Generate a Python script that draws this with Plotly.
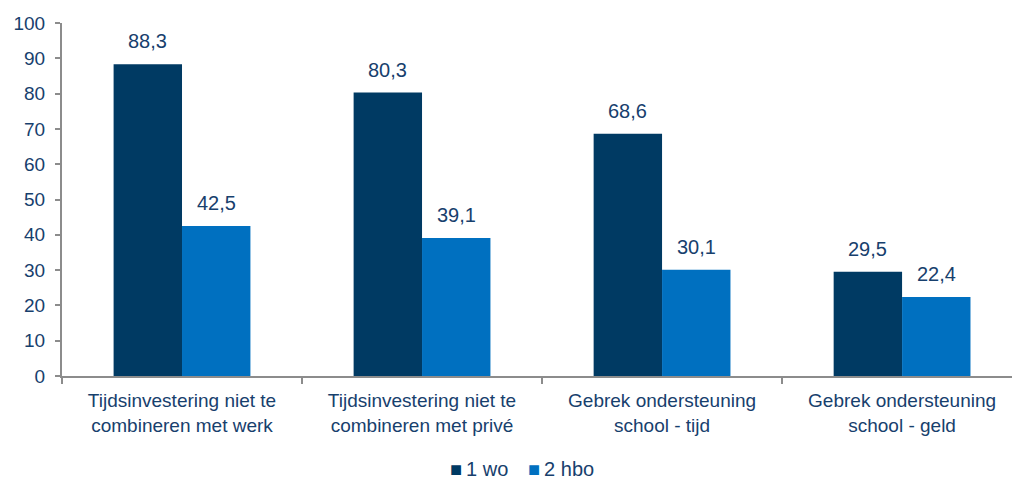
import plotly.graph_objects as go

categories = [
    "Tijdsinvestering niet te<br>combineren met werk",
    "Tijdsinvestering niet te<br>combineren met privé",
    "Gebrek ondersteuning<br>school - tijd",
    "Gebrek ondersteuning<br>school - geld",
]
wo_values = [88.3, 80.3, 68.6, 29.5]
hbo_values = [42.5, 39.1, 30.1, 22.4]
series_names = ["1 wo", "2 hbo"]
series_colors = ["#003A63", "#0070C0"]

text_color = "#17406D"
axis_color = "#8C8C8C"
font_family = "Liberation Sans, Arial, sans-serif"
bargap = 0.43
plot_left, plot_width = 62, 950


def fmt(v):
    return f"{v:.1f}".replace(".", ",")


fig = go.Figure()
for name, vals, color in zip(series_names, [wo_values, hbo_values], series_colors):
    fig.add_trace(go.Bar(
        x=categories, y=vals, name=name,
        marker=dict(color=color, line=dict(width=0)),
    ))

# value labels above each bar
half = (1 - bargap) / 4
for offset, vals in zip([-half, half], [wo_values, hbo_values]):
    for i, v in enumerate(vals):
        fig.add_annotation(
            x=i + offset, y=v, text=fmt(v), showarrow=False,
            yanchor="bottom", yshift=10,
            font=dict(size=20, color=text_color, family=font_family),
        )

# compact legend below the axis: coloured square followed by series name
for name, color, left_px in zip(series_names, series_colors, [449, 527]):
    fig.add_annotation(
        xref="paper", yref="paper",
        x=(left_px - plot_left) / plot_width, y=0, xanchor="left",
        yanchor="middle", yshift=-93, showarrow=False, borderpad=0,
        text=f"<span style='color:{color};font-size:20px'>■</span>\u2009{name}",
        font=dict(size=20, color=text_color, family=font_family),
    )

fig.update_layout(
    width=1012, height=482,
    margin=dict(l=plot_left, r=0, t=23, b=106, autoexpand=False),
    paper_bgcolor="white", plot_bgcolor="white",
    barmode="group", bargap=bargap, bargroupgap=0,
    font=dict(family=font_family, size=19, color=text_color),
    showlegend=False,
    xaxis=dict(
        range=[-0.5, 3.458], showline=True, linecolor=axis_color, linewidth=2,
        ticks="outside", tickson="boundaries", ticklen=6, tickcolor=axis_color,
        tickwidth=2, tickfont=dict(size=19, color=text_color),
        ticklabelstandoff=6, showgrid=False, fixedrange=True,
    ),
    yaxis=dict(
        range=[0, 100], dtick=10, showline=True, linecolor=axis_color, linewidth=2,
        ticks="outside", ticklen=5, tickcolor=axis_color, tickwidth=2,
        tickfont=dict(size=19, color=text_color), ticklabelstandoff=6,
        showgrid=False, zeroline=False, fixedrange=True,
    ),
)

fig.write_html("out.html")
